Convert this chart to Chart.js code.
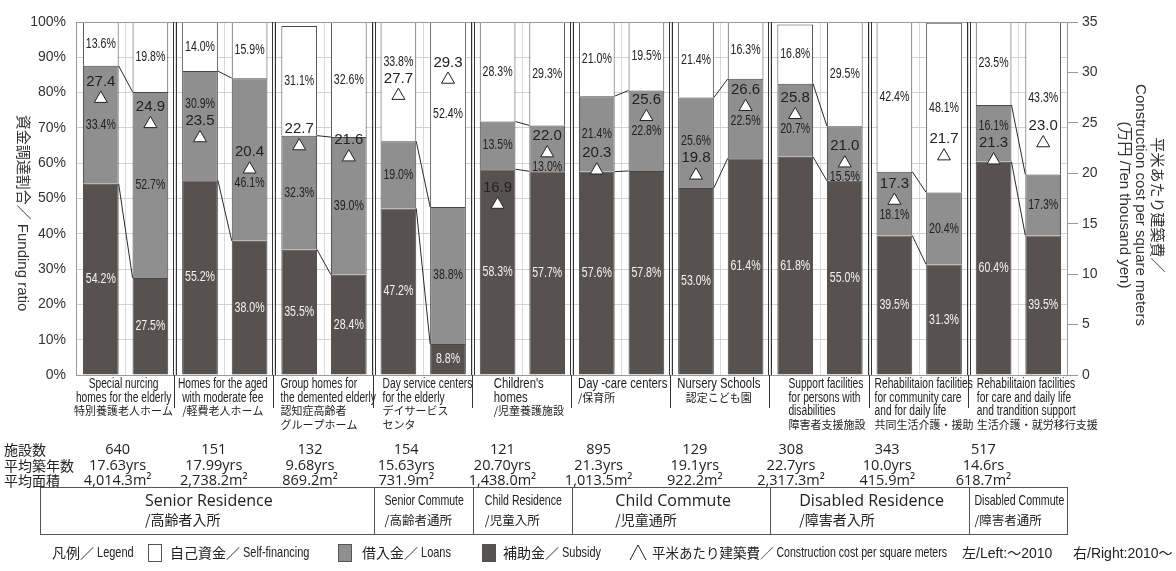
<!DOCTYPE html>
<html>
<head>
<meta charset="utf-8">
<title>資金調達割合と平米あたり建築費</title>
<script src="https://cdn.jsdelivr.net/npm/chart.js@4.4.0/dist/chart.umd.min.js"></script>
<style>
  body { margin: 0; background: #fff; }
  canvas { display: block; background: #fff; }
</style>
</head>
<body>
<canvas id="mycanvas" width="1176" height="571"></canvas>
<script>
// facility types, each with a left (~2010) and right (2010~) bar
var facilities = ['Special nursing homes', 'Homes for the aged', 'Group homes', 'Day service centers', "Children's homes",
  'Day-care centers', 'Nursery schools', 'Support facilities', 'Rehab. community care', 'Rehab. care and transition'];
var periods = ['~2010', '2010~'];

// funding shares in %, two bars per facility
var subsidy = [54.2, 27.5, 55.2, 38.0, 35.5, 28.4, 47.2, 8.8, 58.3, 57.7, 57.6, 57.8, 53.0, 61.4, 61.8, 55.0, 39.5, 31.3, 60.4, 39.5];
var loans = [33.4, 52.7, 30.9, 46.1, 32.3, 39.0, 19.0, 38.8, 13.5, 13.0, 21.4, 22.8, 25.6, 22.5, 20.7, 15.5, 18.1, 20.4, 16.1, 17.3];
var selfFinancing = [13.6, 19.8, 14.0, 15.9, 31.1, 32.6, 33.8, 52.4, 28.3, 29.3, 21.0, 19.5, 21.4, 16.3, 16.8, 29.5, 42.4, 48.1, 23.5, 43.3];

// construction cost per square meter (10,000 yen)
var cost = [27.4, 24.9, 23.5, 20.4, 22.7, 21.6, 27.7, 29.3, 16.9, 22.0, 20.3, 25.6, 19.8, 26.6, 25.8, 21.0, 17.3, 21.7, 21.3, 23.0];

var pctTicks = [0, 10, 20, 30, 40, 50, 60, 70, 80, 90, 100];
var costTicks = [0, 5, 10, 15, 20, 25, 30, 35];

// facility statistics
var facilityCount = [640, 151, 132, 154, 121, 895, 129, 308, 343, 517];
var avgAge = ['17.63yrs', '17.99yrs', '9.68yrs', '15.63yrs', '20.70yrs', '21.3yrs', '19.1yrs', '22.7yrs', '10.0yrs', '14.6rs'];
var avgArea = ['4,014.3', '2,738.2', '869.2', '731.9', '1,438.0', '1,013.5', '922.2', '2,317.3', '415.9', '618.7'];
var statNames = ['施設数', '平均築年数', '平均面積'];

var nameLines = [
  ['Special nurcing', 'homes for the elderly', '特別養護老人ホーム'],
  ['Homes for the aged', 'with moderate fee', '/軽費老人ホーム'],
  ['Group homes for', 'the demented elderly', '認知症高齢者', 'グループホーム'],
  ['Day service centers', 'for the elderly', 'デイサービス', 'センタ'],
  ["Children's", 'homes', '/児童養護施設'],
  ['Day -care centers', '/保育所'],
  ['Nursery Schools', '認定こども園'],
  ['Support facilities', 'for persons with', 'disabilities', '障害者支援施設'],
  ['Rehabilitaion facilities', 'for community care', 'and for daily life', '共同生活介護・援助'],
  ['Rehabilitaion facilities', 'for care and daily life', 'and trandition support', '生活介護・就労移行支援']
];
var nameIndent = [0, 0, 6, 9, 21, 6, 0, 18, 5, 8];   // 0 = centred under the pair

var bandNames = ['Senior Residence', 'Senior Commute', 'Child Residence', 'Child Commute', 'Disabled Residence', 'Disabled Commute'];
var bandNamesJa = ['/高齢者入所', '/高齢者通所', '/児童入所', '/児童通所', '/障害者入所', '/障害者通所'];
var bandSpan = [3, 1, 1, 2, 2, 1];

var DARK = '#57524f', GREY = '#8f8f8f', EDGE = '#474747';
var SANS = '"Liberation Sans", "Noto Sans CJK JP", sans-serif';
var OPEN = '"Open Sans", "Noto Sans CJK JP", sans-serif';
var JP = '"Noto Sans CJK JP", sans-serif';
var SQUEEZE = 0.73;   // condensed look for the small latin labels

var xLabels = [];
facilities.forEach(function(f) {
  periods.forEach(function(p) { xLabels.push(f + ' ' + p); });
});

// draw text, optionally squeezed horizontally; returns drawn width
function txt(c, s, x, y, font, color, align, sx) {
  sx = sx || 1;
  c.save();
  c.font = font;
  c.fillStyle = color || '#222';
  c.textAlign = align || 'left';
  c.textBaseline = 'middle';
  c.translate(x, y);
  c.scale(sx, 1);
  c.fillText(s, 0, 0);
  var w = c.measureText(s).width * sx;
  c.restore();
  return w;
}

function textW(c, s, font, sx) {
  c.font = font;
  return c.measureText(s).width * (sx || 1);
}

function isJa(s) { return /[\u3000-\u9fff\uff00-\uffef]/.test(s); }

// japanese part at full width, latin part condensed
function mixed(c, ja, en, x, y, size) {
  var w = txt(c, ja, x, y, size + 'px ' + JP, '#222', 'left');
  return w + txt(c, en, x + w, y, (size + 1) + 'px ' + SANS, '#222', 'left', SQUEEZE);
}

// keep a % label clear of the cost marker and its value
function labelY(top, bottom, ty) {
  var mid = (top + bottom) / 2;
  if (mid <= ty - 34 || mid >= ty + 14) return mid;
  var up = ty - 34, down = ty + 14;
  var overUp = Math.max(0, top - (up - 6)), overDown = Math.max(0, (down + 6) - bottom);
  if (overUp === 0 && overDown === 0) return (mid - up < down - mid) ? up : down;
  return overUp <= overDown ? up : down;
}

var extras = {
  id: 'extras',
  afterDraw: function(chart) {
    var c = chart.ctx, a = chart.chartArea;
    var y2 = chart.scales.y2;
    var n = facilities.length, gw = (a.right - a.left) / n;
    function gx(k) { return a.left + k * gw; }
    c.save();

    // plot frame
    c.strokeStyle = '#9a9a9a';
    c.lineWidth = 1;
    c.strokeRect(a.left + 0.5, a.top + 0.5, a.right - a.left - 1, a.bottom - a.top);

    // double separators between facility types
    c.strokeStyle = '#333';
    for (var k = 1; k < n; k++) {
      var sx = Math.round(gx(k));
      c.beginPath();
      c.moveTo(sx - 1.5, a.top); c.lineTo(sx - 1.5, a.bottom);
      c.moveTo(sx + 1.5, a.top); c.lineTo(sx + 1.5, a.bottom);
      c.moveTo(sx - 0.5, a.bottom); c.lineTo(sx - 0.5, 408);
      c.stroke();
    }

    // series lines joining the two bars of each pair
    c.strokeStyle = '#2a2a2a';
    [0, 1].forEach(function(d) {
      var meta = chart.getDatasetMeta(d);
      for (var g = 0; g < n; g++) {
        var L = meta.data[2 * g], R = meta.data[2 * g + 1];
        c.beginPath();
        c.moveTo(L.x + L.width / 2, L.y);
        c.lineTo(R.x - R.width / 2, R.y);
        c.stroke();
      }
    });

    // % labels in the segments
    var costMeta = chart.getDatasetMeta(3);
    [0, 1, 2].forEach(function(d) {
      var meta = chart.getDatasetMeta(d);
      var vals = chart.data.datasets[d].data;
      meta.data.forEach(function(el, i) {
        var top = Math.max(el.y, a.top), bottom = el.base;
        var ty = y2.getPixelForValue(cost[i]);
        var y = labelY(top, bottom, ty);
        txt(c, vals[i].toFixed(1) + '%', el.x, y, '14.5px ' + SANS, d === 0 ? '#f2f2f2' : '#222', 'center', SQUEEZE);
      });
    });

    // cost values above the markers
    costMeta.data.forEach(function(pt, i) {
      txt(c, cost[i].toFixed(1), pt.x, pt.y - 17, '15px ' + SANS, '#222', 'center');
    });

    // axis titles
    c.save();
    c.translate(22, 213);
    c.rotate(Math.PI / 2);
    txt(c, '資金調達割合／ Funding ratio', 0, 0, '15px ' + SANS, '#333', 'center');
    c.restore();
    c.save();
    c.translate(1156, 205);
    c.rotate(Math.PI / 2);
    txt(c, '平米あたり建築費／', 0, 0, '15px ' + SANS, '#333', 'center');
    txt(c, 'Construction cost per square meters', 0, 16, '15px ' + SANS, '#333', 'center');
    txt(c, '(万円 /Ten thousand yen)', 0, 32, '15px ' + SANS, '#333', 'center');
    c.restore();

    // facility names under each pair
    var lineY = [384, 398, 411, 425];
    nameLines.forEach(function(lines, g) {
      var big = g >= 4 && g <= 6;
      lines.forEach(function(s, j) {
        var ja = isJa(s);
        var font = ja ? '11px ' + JP : (big ? '15.5px ' : '14px ') + SANS;
        var sq = ja ? 1 : SQUEEZE;
        if (nameIndent[g]) txt(c, s, gx(g) + nameIndent[g], lineY[j], font, '#222', 'left', sq);
        else txt(c, s, gx(g) + gw / 2 - 2, lineY[j], font, '#222', 'center', sq);
      });
    });

    // statistics rows
    var statY = [450, 466, 481];
    statNames.forEach(function(s, r) { txt(c, s, 4, statY[r], '14px ' + JP, '#222', 'left'); });
    for (var g = 0; g < n; g++) {
      var cx = gx(g) + gw / 2 - 8 - 3 * g;
      txt(c, String(facilityCount[g]), cx, statY[0], '14.5px ' + OPEN, '#222', 'center');
      txt(c, avgAge[g], cx, statY[1], '14.5px ' + OPEN, '#222', 'center');
      txt(c, avgArea[g] + 'm²', cx, statY[2], '14.5px ' + OPEN, '#222', 'center');
    }

    // residence / commute band
    var bTop = 487, bBot = 534, bLeft = 40;
    c.strokeStyle = '#555';
    c.strokeRect(bLeft + 0.5, bTop + 0.5, Math.round(gx(n)) - bLeft - 1, bBot - bTop);
    var k0 = 0;
    bandNames.forEach(function(name, b) {
      var x0 = b === 0 ? bLeft : gx(k0), x1 = gx(k0 + bandSpan[b]);
      if (b > 0) {
        c.beginPath();
        c.moveTo(Math.round(x0) + 0.5, bTop); c.lineTo(Math.round(x0) + 0.5, bBot);
        c.stroke();
      }
      var wide = bandSpan[b] > 1;
      var font = wide ? '16px ' + OPEN : '14.5px ' + SANS;
      var sq = wide ? 1 : SQUEEZE;
      var w = textW(c, name, font, sq);
      var left = (x0 + x1) / 2 - w / 2 + (wide ? 2 : 1);
      txt(c, name, left, 501, font, '#222', 'left', sq);
      txt(c, bandNamesJa[b], left, 520, (wide ? '14px ' : '12.5px ') + JP, '#222', 'left');
      k0 += bandSpan[b];
    });

    // legend
    var ly = 553;
    function box(x, fill) {
      c.fillStyle = fill;
      c.fillRect(x, ly - 9, 14, 18);
      c.strokeStyle = '#555';
      c.strokeRect(x + 0.5, ly - 8.5, 13, 17);
    }
    mixed(c, '凡例／', ' Legend', 52, ly, 14);
    box(148, '#fff');
    mixed(c, '自己資金／', ' Self-financing', 170, ly, 14);
    box(338, GREY);
    mixed(c, '借入金／', ' Loans', 362, ly, 14);
    box(482, DARK);
    mixed(c, '補助金／', ' Subsidy', 503, ly, 14);
    c.strokeStyle = '#222';
    c.beginPath();
    c.moveTo(630, ly + 7); c.lineTo(638, ly - 8); c.lineTo(646, ly + 7);
    c.stroke();
    mixed(c, '平米あたり建築費／', ' Construction cost per square meters', 652, ly, 13.5);
    txt(c, '左/Left:～2010', 962, ly + 1, '14px ' + SANS, '#222', 'left');
    txt(c, '右/Right:2010～', 1073, ly + 1, '14px ' + SANS, '#222', 'left');

    c.restore();
  }
};

Chart.defaults.font.family = SANS;

var ctx = document.getElementById('mycanvas');
var chart = new Chart(ctx, {
  type: 'bar',
  data: {
    labels: xLabels,
    datasets: [
      { label: '補助金／ Subsidy', data: subsidy, backgroundColor: DARK, borderColor: EDGE, borderWidth: 1, stack: 'fund', order: 1 },
      { label: '借入金／ Loans', data: loans, backgroundColor: GREY, borderColor: EDGE, borderWidth: 1, stack: 'fund', order: 1 },
      { label: '自己資金／ Self-financing', data: selfFinancing, backgroundColor: '#ffffff', borderColor: EDGE, borderWidth: 1, stack: 'fund', order: 1 },
      { type: 'line', label: '平米あたり建築費', data: cost, yAxisID: 'y2', showLine: false,
        pointStyle: 'triangle', pointRadius: 7.5, pointBackgroundColor: '#fff', pointBorderColor: '#222',
        pointBorderWidth: 1, order: 0 }
    ]
  },
  options: {
    responsive: false,
    animation: false,
    devicePixelRatio: 1,
    layout: { padding: { top: 22, left: 0, right: 0, bottom: 0 } },
    datasets: { bar: { barPercentage: 0.72, categoryPercentage: 1 } },
    plugins: { legend: { display: false }, tooltip: { enabled: false } },
    scales: {
      x: {
        stacked: true,
        offset: true,
        grid: { color: '#d9d9d9', offset: true, drawTicks: false },
        border: { display: false },
        ticks: { display: false },
        afterFit: function(s) { s.height = 196; }
      },
      y: {
        stacked: true,
        min: pctTicks[0], max: pctTicks[pctTicks.length - 1],
        afterBuildTicks: function(s) { s.ticks = pctTicks.map(function(v) { return { value: v }; }); },
        ticks: { callback: function(v) { return v + '%'; }, font: { size: 14 }, color: '#333', padding: 10 },
        grid: { color: '#d2d2d2', drawTicks: false },
        border: { display: false },
        afterFit: function(s) { s.width = 76; }
      },
      y2: {
        position: 'right',
        min: costTicks[0], max: costTicks[costTicks.length - 1],
        afterBuildTicks: function(s) { s.ticks = costTicks.map(function(v) { return { value: v }; }); },
        ticks: { font: { size: 14 }, color: '#333', padding: 4 },
        grid: { drawOnChartArea: false, color: '#999', tickLength: 10 },
        border: { display: false },
        afterFit: function(s) { s.width = 108; }
      }
    }
  },
  plugins: [extras]
});
</script>
</body>
</html>
